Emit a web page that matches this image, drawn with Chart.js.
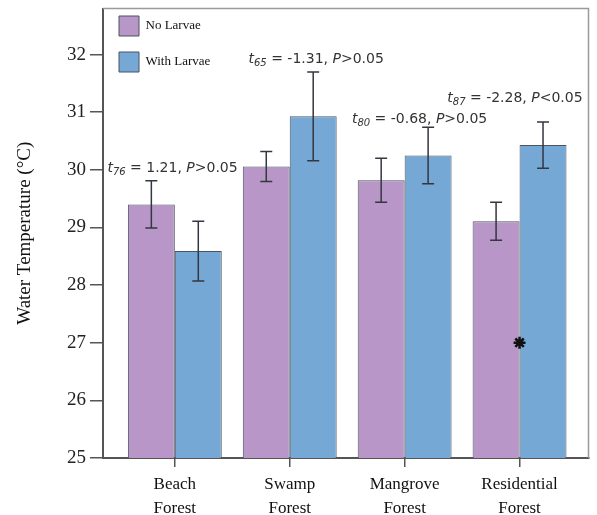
<!DOCTYPE html>
<html>
<head>
<meta charset="utf-8">
<script src="https://cdn.jsdelivr.net/npm/chart.js@4.4.1/dist/chart.umd.min.js"></script>
<style>
  html, body { margin: 0; padding: 0; background: #fff; }
  #wrap { width: 597px; height: 515px; }
</style>
</head>
<body>
<div id="wrap"><canvas id="tempChart"></canvas></div>
<script>
const sites = [['Beach', 'Forest'], ['Swamp', 'Forest'], ['Mangrove', 'Forest'], ['Residential', 'Forest']];
const noLarvae = [29.40, 30.06, 29.82, 29.11];
const noLarvaeErr = [0.41, 0.26, 0.38, 0.33];
const withLarvae = [28.59, 30.93, 30.25, 30.43];
const withLarvaeErr = [0.52, 0.77, 0.49, 0.40];
const yTicks = [25, 26, 27, 28, 29, 30, 31, 32];

// t-test results per site, and where each note sits (site offset, temperature)
const tDf = ['76', '65', '80', '87'];
const tValue = ['1.21', '-1.31', '-0.68', '-2.28'];
const pText = ['>0.05', '>0.05', '>0.05', '<0.05'];
const noteX = [-0.02, 0.23, 0.13, -0.04];
const noteY = [29.96, 31.85, 30.82, 31.17];

// significant difference marker
const sigSite = [3];
const sigY = [27.0];

const errs = [noLarvaeErr, withLarvaeErr];
const serif = '"Liberation Serif", "Times New Roman", serif';

const errorBars = {
  id: 'errorBars',
  afterDatasetsDraw(chart) {
    const ctx = chart.ctx;
    const y = chart.scales.y;
    ctx.save();
    ctx.strokeStyle = '#33373f';
    ctx.lineWidth = 1.5;
    [0, 1].forEach(d => {
      const meta = chart.getDatasetMeta(d);
      meta.data.forEach((bar, i) => {
        const v = chart.data.datasets[d].data[i].y;
        const top = y.getPixelForValue(v + errs[d][i]);
        const bot = y.getPixelForValue(v - errs[d][i]);
        ctx.beginPath();
        ctx.moveTo(bar.x, top); ctx.lineTo(bar.x, bot);
        ctx.moveTo(bar.x - 6, top); ctx.lineTo(bar.x + 6, top);
        ctx.moveTo(bar.x - 6, bot); ctx.lineTo(bar.x + 6, bot);
        ctx.stroke();
      });
    });
    ctx.restore();
  }
};

const frame = {
  id: 'frame',
  beforeDatasetsDraw(chart) {
    const {ctx, chartArea: a} = chart;
    ctx.save();
    ctx.strokeStyle = '#9a9a9a';
    ctx.lineWidth = 1.5;
    ctx.beginPath();
    ctx.moveTo(a.left, a.top); ctx.lineTo(a.right, a.top); ctx.lineTo(a.right, a.bottom);
    ctx.stroke();
    ctx.restore();
  }
};

const tNotes = {
  id: 'tNotes',
  afterDatasetsDraw(chart) {
    const {ctx, scales: {x, y}} = chart;
    ctx.save();
    ctx.fillStyle = '#333';
    ctx.textBaseline = 'alphabetic';
    const big = '14px "DejaVu Sans"';
    const bigIt = 'italic 14px "DejaVu Sans"';
    const sub = 'italic 10px "DejaVu Sans"';
    tDf.forEach((df, i) => {
      const parts = [
        [bigIt, 't', 0],
        [sub, df, 3],
        [big, ' = ' + tValue[i] + ', ', 0],
        [bigIt, 'P', 0],
        [big, pText[i], 0]
      ];
      let w = 0;
      parts.forEach(p => { ctx.font = p[0]; w += ctx.measureText(p[1]).width; });
      let cx = x.getPixelForValue(i + noteX[i]) - w / 2;
      const by = y.getPixelForValue(noteY[i]);
      parts.forEach(p => {
        ctx.font = p[0];
        ctx.fillText(p[1], cx, by + p[2]);
        cx += ctx.measureText(p[1]).width;
      });
    });
    ctx.restore();
  }
};

new Chart(document.getElementById('tempChart'), {
  type: 'bar',
  data: {
    datasets: [
      {
        label: 'No Larvae',
        data: noLarvae.map((v, i) => ({x: i, y: v})),
        backgroundColor: '#b897c8',
        borderColor: '#4a5361',
        borderWidth: 1,
        barPercentage: 1.0,
        categoryPercentage: 0.817
      },
      {
        label: 'With Larvae',
        data: withLarvae.map((v, i) => ({x: i, y: v})),
        backgroundColor: '#76a8d6',
        borderColor: '#4a5361',
        borderWidth: 1,
        barPercentage: 1.0,
        categoryPercentage: 0.817
      },
      {
        type: 'scatter',
        label: 'sig',
        order: -1,
        data: sigSite.map((s, i) => ({x: s, y: sigY[i]})),
        pointStyle: 'star',
        radius: 6,
        borderWidth: 2.5,
        borderColor: '#111',
        backgroundColor: '#111'
      }
    ]
  },
  options: {
    responsive: true,
    maintainAspectRatio: false,
    animation: false,
    layout: { padding: { top: 8, right: 8, left: 0, bottom: 0 } },
    plugins: {
      tooltip: { enabled: false },
      legend: {
        position: 'chartArea',
        align: 'start',
        labels: {
          boxWidth: 20,
          boxHeight: 20,
          padding: 16,
          color: '#111',
          font: { family: serif, size: 13 },
          filter: item => item.datasetIndex < 2
        }
      }
    },
    scales: {
      x: {
        type: 'linear',
        offset: false,
        min: -0.625,
        max: 3.6,
        afterBuildTicks: s => { s.ticks = sites.map((_, i) => ({value: i})); },
        afterFit: s => { s.height = 57; s.paddingLeft = 0; s.paddingRight = 0; },
        grid: { offset: false, drawOnChartArea: false, tickLength: 9, color: '#555', lineWidth: 1.5 },
        border: { color: '#555', width: 2 },
        ticks: {
          autoSkip: false,
          maxRotation: 0,
          padding: 6,
          color: '#111',
          font: { family: serif, size: 17, lineHeight: 1.4 },
          callback: v => sites[v]
        }
      },
      y: {
        min: 25,
        max: 32.8,
        afterBuildTicks: s => { s.ticks = yTicks.map(v => ({value: v})); },
        afterFit: s => { s.width = 103; s.paddingTop = 0; s.paddingBottom = 0; },
        grid: { drawOnChartArea: false, tickLength: 13, color: '#555', lineWidth: 1.5 },
        border: { color: '#555', width: 2 },
        ticks: {
          padding: 4,
          color: '#222',
          font: { family: serif, size: 19 }
        },
        title: {
          display: true,
          text: 'Water Temperature (°C)',
          color: '#111',
          padding: { top: 14, bottom: 0 },
          font: { family: serif, size: 19 }
        }
      }
    }
  },
  plugins: [frame, errorBars, tNotes]
});
</script>
</body>
</html>
